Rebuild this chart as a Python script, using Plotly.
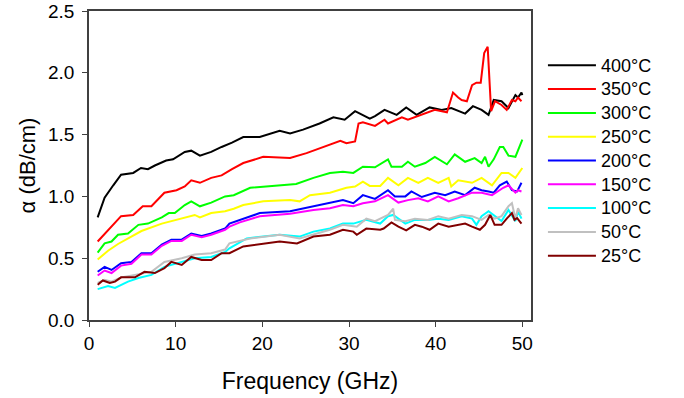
import plotly.graph_objects as go

# ---- data ----
f_400 = [1, 1.8, 2.8, 3.7, 5.1, 6.0, 6.8, 7.6, 8.9, 9.7, 11.05, 11.8, 12.8, 14.1, 15.3, 16.5, 17.8, 19.7,
         22.0, 23.2, 24.7, 26.6, 28.2, 29.5, 30.7, 32.4, 33.0, 34.1, 35.5, 36.6, 37.8, 39.3, 40.7, 41.8,
         43.4, 44.3, 45.3, 46.1, 46.7, 47.6, 48.4, 49.2, 49.5, 49.9, 50.0]
a_400 = [0.83, 0.99, 1.09, 1.175, 1.19, 1.23, 1.22, 1.25, 1.29, 1.30, 1.36, 1.37, 1.33, 1.36, 1.40, 1.435, 1.48, 1.48,
         1.53, 1.51, 1.54, 1.59, 1.64, 1.62, 1.69, 1.63, 1.65, 1.70, 1.66, 1.72, 1.66, 1.72, 1.70, 1.715,
         1.67, 1.73, 1.70, 1.66, 1.78, 1.77, 1.715, 1.82, 1.80, 1.84, 1.82]

f_350 = [1, 2.4, 3.7, 5.1, 6.2, 7.2, 8.7, 10.1, 11.05, 11.8, 12.8, 14.1, 15.3, 16.5, 17.8, 20.1, 23.2, 25.1,
         27.4, 29.0, 29.7, 30.7, 31.1, 31.6, 33.0, 34.1, 34.5, 36.1, 36.8, 38.4, 39.9, 41.3, 42.0, 42.6,
         43.0, 43.6, 44.2, 44.7, 45.2, 45.6, 46.0, 46.4, 46.85, 47.6, 48.2, 48.8, 49.2, 49.5, 49.9]
a_350 = [0.635, 0.74, 0.84, 0.85, 0.92, 0.92, 1.03, 1.05, 1.08, 1.13, 1.11, 1.15, 1.17, 1.22, 1.27, 1.32, 1.31, 1.35,
         1.41, 1.45, 1.43, 1.445, 1.59, 1.60, 1.57, 1.62, 1.59, 1.64, 1.62, 1.66, 1.70, 1.68, 1.84, 1.80,
         1.78, 1.77, 1.90, 1.92, 1.92, 2.16, 2.21, 1.69, 1.77, 1.74, 1.70, 1.78, 1.77, 1.80, 1.77]

f_300 = [1, 1.8, 2.6, 3.35, 4.5, 5.7, 6.8, 8.4, 9.2, 9.9, 11.05, 11.8, 12.8, 14.1, 15.7, 16.7, 18.6, 21.6,
         23.9, 25.9, 27.8, 29.3, 30.5, 31.6, 33.0, 34.5, 34.9, 36.1, 36.8, 37.6, 38.8, 39.9, 41.3, 42.2,
         43.4, 44.5, 45.3, 45.7, 46.1, 46.7, 47.4, 47.8, 48.4, 49.2, 50.0]
a_300 = [0.545, 0.62, 0.635, 0.69, 0.70, 0.77, 0.78, 0.83, 0.865, 0.865, 0.93, 0.96, 0.92, 0.95, 1.00, 1.01, 1.07, 1.09,
         1.10, 1.15, 1.19, 1.20, 1.19, 1.24, 1.235, 1.30, 1.24, 1.24, 1.28, 1.24, 1.27, 1.32, 1.26, 1.34,
         1.28, 1.31, 1.27, 1.32, 1.24, 1.30, 1.40, 1.40, 1.33, 1.32, 1.46]

f_250 = [1, 2.2, 3.35, 4.5, 6.05, 8.4, 10.7, 12.2, 12.8, 14.1, 15.7, 16.7, 17.8, 20.1, 23.2, 24.3, 25.5, 27.8,
         29.7, 30.7, 31.6, 32.4, 33.6, 34.5, 35.7, 36.8, 38.0, 39.1, 40.3, 41.5, 41.8, 42.6, 44.2, 45.3,
         46.5, 47.6, 48.4, 49.2, 50.0]
a_250 = [0.49, 0.56, 0.615, 0.66, 0.72, 0.78, 0.82, 0.85, 0.83, 0.865, 0.88, 0.90, 0.93, 0.96, 0.97, 0.96, 1.01, 1.03,
         1.07, 1.08, 1.12, 1.085, 1.085, 1.15, 1.09, 1.15, 1.11, 1.15, 1.11, 1.15, 1.08, 1.13, 1.11, 1.15,
         1.09, 1.19, 1.19, 1.15, 1.23]

f_200 = [1, 1.8, 2.6, 3.7, 4.9, 6.05, 7.2, 8.4, 9.5, 10.7, 11.8, 13.0, 14.1, 15.7, 16.2, 17.4, 19.7, 23.2,
         25.9, 27.8, 29.3, 30.5, 31.6, 33.0, 34.5, 35.3, 36.5, 37.2, 38.4, 39.9, 41.1, 42.2, 43.4, 44.5,
         45.3, 46.1, 46.7, 47.4, 48.2, 48.8, 49.4, 49.9]
a_200 = [0.39, 0.43, 0.405, 0.46, 0.47, 0.54, 0.54, 0.61, 0.65, 0.65, 0.70, 0.68, 0.70, 0.74, 0.78, 0.81, 0.865, 0.88,
         0.92, 0.945, 0.97, 0.945, 1.01, 0.98, 1.05, 1.00, 1.00, 1.04, 0.995, 1.03, 1.01, 1.04, 1.01, 1.07,
         1.05, 1.04, 1.03, 1.09, 1.12, 1.05, 1.04, 1.11]

f_150 = [1, 1.8, 2.6, 3.7, 4.9, 6.05, 7.2, 8.4, 9.5, 10.7, 11.8, 13.0, 14.1, 15.7, 16.2, 17.4, 19.7, 23.2,
         25.9, 27.8, 29.3, 30.5, 31.6, 33.0, 34.5, 35.7, 36.8, 38.0, 39.1, 40.3, 41.5, 42.6, 44.2, 45.3,
         46.5, 47.8, 48.4, 49.2, 49.5, 49.9]
a_150 = [0.36, 0.40, 0.38, 0.44, 0.455, 0.53, 0.53, 0.60, 0.64, 0.64, 0.69, 0.67, 0.69, 0.73, 0.755, 0.79, 0.84, 0.86,
         0.89, 0.905, 0.93, 0.92, 0.945, 0.96, 1.01, 0.95, 0.97, 0.985, 0.96, 1.00, 0.96, 0.985, 1.03, 1.03,
         1.01, 1.07, 1.09, 1.03, 1.05, 1.04]

f_100 = [1, 2.2, 3.0, 4.5, 5.7, 7.2, 8.7, 10.7, 12.2, 14.1, 15.7, 16.2, 18.2, 20.1, 22.0, 24.3, 25.9, 27.8,
         29.3, 30.5, 32.0, 33.6, 34.5, 35.1, 36.5, 37.6, 39.1, 40.3, 41.5, 43.0, 44.2, 44.7, 45.3, 46.1,
         46.8, 47.6, 48.4, 49.2, 49.5, 49.9]
a_100 = [0.25, 0.275, 0.26, 0.31, 0.34, 0.365, 0.43, 0.47, 0.50, 0.51, 0.55, 0.58, 0.66, 0.675, 0.69, 0.675, 0.715, 0.74,
         0.78, 0.78, 0.81, 0.78, 0.84, 0.85, 0.78, 0.81, 0.81, 0.82, 0.81, 0.84, 0.82, 0.77, 0.84, 0.88,
         0.84, 0.80, 0.89, 0.80, 0.88, 0.82]

f_50 = [1, 1.8, 2.6, 3.7, 5.3, 7.2, 8.7, 10.7, 12.2, 14.1, 15.7, 16.2, 18.6, 20.1, 22.0, 24.3, 25.9, 27.8,
        29.3, 30.9, 32.0, 33.0, 34.5, 35.1, 35.3, 36.5, 37.6, 39.1, 40.3, 41.5, 43.0, 44.2, 45.3, 46.1,
        46.8, 47.6, 48.4, 48.8, 49.2, 49.5, 49.9]
a_50 = [0.30, 0.325, 0.31, 0.345, 0.365, 0.39, 0.47, 0.50, 0.53, 0.54, 0.57, 0.62, 0.66, 0.675, 0.69, 0.66, 0.69, 0.73,
        0.77, 0.755, 0.82, 0.80, 0.85, 0.90, 0.81, 0.80, 0.82, 0.81, 0.84, 0.82, 0.85, 0.84, 0.81, 0.85,
        0.82, 0.84, 0.92, 0.945, 0.82, 0.905, 0.85]

f_25 = [1, 1.6, 2.4, 3.0, 3.7, 5.3, 6.4, 7.6, 8.7, 9.5, 10.7, 11.8, 13.0, 14.1, 15.3, 16.2, 17.8, 19.3,
        20.1, 22.0, 24.0, 25.9, 27.8, 29.3, 30.5, 30.9, 32.0, 33.6, 34.0, 34.9, 35.7, 36.6, 37.6, 38.4,
        39.3, 40.3, 41.5, 42.6, 43.4, 44.2, 45.1, 45.7, 46.3, 46.8, 47.6, 48.2, 48.8, 49.1, 49.4, 49.9]
a_25 = [0.285, 0.32, 0.30, 0.31, 0.345, 0.345, 0.39, 0.38, 0.42, 0.47, 0.445, 0.51, 0.485, 0.485, 0.54, 0.54, 0.595, 0.61,
        0.62, 0.635, 0.62, 0.675, 0.69, 0.73, 0.715, 0.69, 0.74, 0.73, 0.74, 0.79, 0.755, 0.725, 0.77, 0.755,
        0.73, 0.78, 0.755, 0.77, 0.78, 0.755, 0.73, 0.77, 0.85, 0.77, 0.77, 0.82, 0.865, 0.81, 0.825, 0.78]

labels = ["400°C", "350°C", "300°C", "250°C", "200°C", "150°C", "100°C", "50°C", "25°C"]
colors = ["#000000", "#FF0000", "#00FF00", "#FFFF00", "#0000FF", "#FF00FF", "#00FFFF", "#C0C0C0", "#800000"]
freqs = [f_400, f_350, f_300, f_250, f_200, f_150, f_100, f_50, f_25]
alphas = [a_400, a_350, a_300, a_250, a_200, a_150, a_100, a_50, a_25]

x_ticks = [0, 10, 20, 30, 40, 50]
y_ticks = [0.0, 0.5, 1.0, 1.5, 2.0, 2.5]

FONT = "Liberation Sans, Arial, sans-serif"

fig = go.Figure()
for name, col, fx, ay in zip(labels, colors, freqs, alphas):
    fig.add_trace(go.Scatter(x=fx, y=ay, mode="lines",
                             name=f"<span style='font-size:18px'>{name}</span>",
                             line=dict(color=col, width=2)))

fig.update_layout(
    width=684, height=398,
    margin=dict(l=89, r=153, t=11, b=78, autoexpand=False),
    paper_bgcolor="white", plot_bgcolor="white",
    font=dict(family=FONT, color="#000000", size=18),
    showlegend=True,
    legend=dict(x=1.027, xanchor="left", y=0.879, yanchor="top",
                font=dict(family=FONT, size=16, color="#000000"),
                bgcolor="rgba(0,0,0,0)", tracegroupgap=0, itemwidth=48),
    xaxis=dict(range=[0, 51], tickvals=x_ticks, ticktext=[str(v) for v in x_ticks],
               ticks="outside", ticklen=5, tickcolor="#404040", tickwidth=1,
               showline=True, linecolor="#404040", linewidth=1.5, mirror=True,
               showgrid=False, zeroline=False, automargin=False,
               tickfont=dict(family=FONT, size=19),
               title=dict(text="Frequency (GHz)", font=dict(family=FONT, size=23), standoff=20)),
    yaxis=dict(range=[0, 2.5], tickvals=y_ticks, ticktext=[f"{v:.1f}" for v in y_ticks],
               ticks="outside", ticklen=5, tickcolor="#404040", tickwidth=1,
               showline=True, linecolor="#404040", linewidth=1.5, mirror=True,
               showgrid=False, zeroline=False, automargin=False, ticklabelstandoff=4,
               tickfont=dict(family=FONT, size=19),
               title=dict(text="α (dB/cm)", font=dict(family=FONT, size=22), standoff=6)),
)

fig.write_html("out.html", config={"displayModeBar": False},
               post_script="document.body.style.margin='0';")
